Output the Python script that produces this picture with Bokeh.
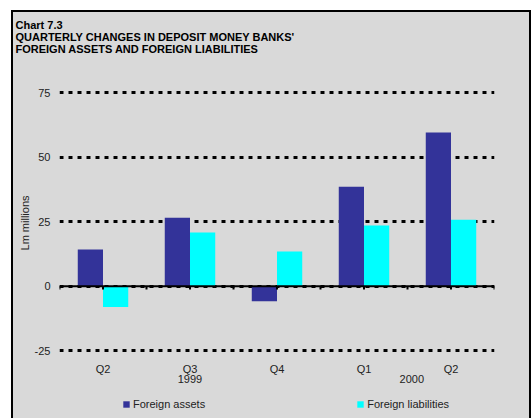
import numpy as np
from bokeh.plotting import figure
from bokeh.layouts import column
from bokeh.models import (Range1d, Span, Title, LinearAxis, FixedTicker, Legend, LegendItem)
from bokeh.embed import file_html
from bokeh.resources import INLINE

quarters = ["Q2", "Q3", "Q4", "Q1", "Q2"]
years = ["1999", "2000"]
year_pos = [1.5, 4.05]
foreign_assets = [14.2, 26.5, -5.8, 38.5, 59.6]
foreign_liabilities = [-8.0, 20.8, 13.5, 23.5, 25.8]
y_ticks = [-25, 0, 25, 50, 75]
title_lines = ["Chart 7.3", "QUARTERLY CHANGES IN DEPOSIT MONEY BANKS'",
               "FOREIGN ASSETS AND FOREIGN LIABILITIES"]
series_names = ["Foreign assets", "Foreign liabilities"]
colors = ["#333399", "#00ffff"]

n = len(quarters)
centers = np.arange(n) + 0.5
bw = 0.29

BG = "#d9d9d9"
FONT = "Liberation Sans"
TXT = "#222222"

p = figure(width=516, height=382, output_backend="svg", toolbar_location=None,
           x_range=Range1d(0, n), y_range=Range1d(-28, 77),
           min_border_left=46, min_border_right=35, min_border_top=75, min_border_bottom=36,
           background_fill_color=BG, border_fill_color=BG, outline_line_color=None)


def make_title(txt, so):
    kw = dict(text=txt, align="left", text_font=FONT, text_font_size="11px",
              text_font_style="bold", text_color="#000000", offset=-44)
    try:
        return Title(standoff=so, **kw)
    except Exception:
        return Title(standoff=0, **kw)


# titles (added nearest-first); a blank spacer sits next to the plot
p.add_layout(make_title(" ", 20), "above")
for txt in reversed(title_lines):
    p.add_layout(make_title(txt, -2), "above")

# bars
p.vbar(x=centers - bw / 2, top=foreign_assets, width=bw, fill_color=colors[0], line_color=None)
p.vbar(x=centers + bw / 2, top=foreign_liabilities, width=bw, fill_color=colors[1], line_color=None)

# zero line with ticks
p.add_layout(Span(location=0, dimension="width", line_color="black", line_width=2))
tick_x = np.arange(0, n + 0.25, 0.5)
p.segment(x0=tick_x, y0=np.zeros(len(tick_x)), x1=tick_x, y1=np.full(len(tick_x), -1.3),
          line_color="black", line_width=2)

# y axis
p.yaxis.ticker = FixedTicker(ticks=y_ticks)
p.yaxis.major_label_overrides = {t: str(t) for t in y_ticks}
p.yaxis.axis_line_color = None
p.yaxis.major_tick_line_color = None
p.yaxis.minor_tick_line_color = None
p.yaxis.major_tick_out = 0
p.yaxis.major_tick_in = 0
p.yaxis.minor_tick_out = 0
p.yaxis.major_label_text_font = FONT
p.yaxis.major_label_text_font_size = "11px"
p.yaxis.major_label_text_color = TXT
p.yaxis.major_label_standoff = 9
p.yaxis.axis_label = "Lm millions"
p.yaxis.axis_label_text_font = FONT
p.yaxis.axis_label_text_font_size = "11px"
p.yaxis.axis_label_text_font_style = "normal"
p.yaxis.axis_label_text_color = TXT
p.yaxis.axis_label_standoff = 1

# grid
p.xgrid.grid_line_color = None
p.ygrid.grid_line_color = "black"
p.ygrid.grid_line_dash = "4 5"
p.ygrid.grid_line_width = 3

# x axis quarter labels
p.xaxis.ticker = FixedTicker(ticks=list(centers))
p.xaxis.major_label_overrides = {float(c): q for c, q in zip(centers, quarters)}
p.xaxis.axis_line_color = None
p.xaxis.major_tick_line_color = None
p.xaxis.minor_tick_line_color = None
p.xaxis.major_tick_out = 0
p.xaxis.major_tick_in = 0
p.xaxis.minor_tick_out = 0
p.xaxis.major_label_text_font = FONT
p.xaxis.major_label_text_font_size = "11px"
p.xaxis.major_label_text_color = TXT
p.xaxis.major_label_standoff = 4

ax2 = LinearAxis(ticker=FixedTicker(ticks=year_pos),
                 major_label_overrides={float(x): y for x, y in zip(year_pos, years)},
                 axis_line_color=None, major_tick_line_color=None, minor_tick_line_color=None,
                 major_tick_out=0, major_tick_in=0, minor_tick_out=0,
                 major_label_text_font=FONT, major_label_text_font_size="11px",
                 major_label_text_color=TXT, major_label_standoff=-3)
p.add_layout(ax2, "below")

# legend strip (separate small figure below the chart)
p2 = figure(width=516, height=24, output_backend="svg", toolbar_location=None,
            x_range=Range1d(0, 1), y_range=Range1d(0, 1),
            x_axis_location=None, y_axis_location=None,
            min_border_left=0, min_border_right=0, min_border_top=0, min_border_bottom=0,
            background_fill_color=BG, border_fill_color=BG, outline_line_color=None)
p2.xgrid.visible = False
p2.ygrid.visible = False
items = []
for name, col in zip(series_names, colors):
    # zero-size bar: only its legend swatch is seen
    rr = p2.vbar(x=[0.5], top=[0], width=0, fill_color=col, line_color=None)
    items.append(LegendItem(label=name, renderers=[rr]))
legend = Legend(items=items, orientation="horizontal", location=(63, 8), spacing=151,
                glyph_width=8, glyph_height=8, label_standoff=3,
                label_text_font=FONT, label_text_font_size="11px", label_text_color=TXT,
                background_fill_alpha=0, border_line_color=None, padding=0, margin=0)
p2.add_layout(legend, "center")

layout = column(p, p2, spacing=0, margin=(12, 0, 0, 13),
                styles={"box-shadow": "0 0 0 2px black", "background-color": BG})

open("out.html", "w").write(file_html(layout, INLINE))
